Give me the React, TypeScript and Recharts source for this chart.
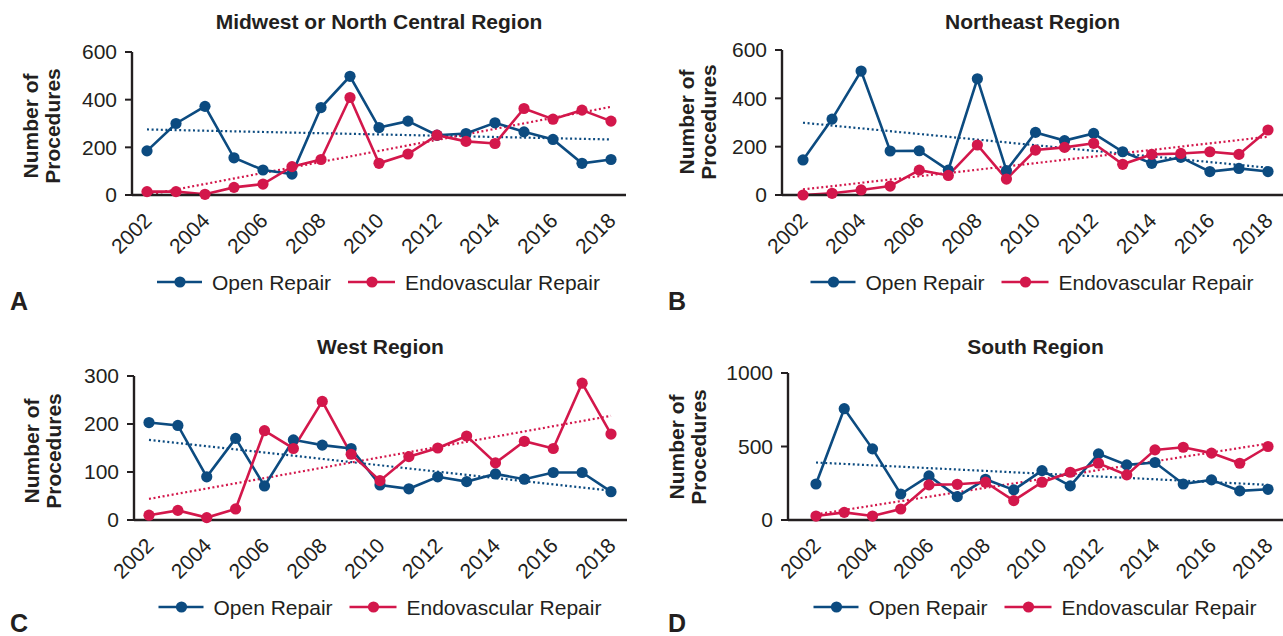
import { CartesianGrid, Line, LineChart, XAxis, YAxis } from 'recharts';

const years = ['2002', '2003', '2004', '2005', '2006', '2007', '2008', '2009', '2010', '2011', '2012', '2013', '2014', '2015', '2016', '2017', '2018'];

const midwestOpen = [185, 300, 372, 156, 105, 88, 367, 498, 283, 310, 251, 258, 303, 265, 233, 133, 149];
const midwestEndo = [14, 14, 3, 32, 46, 119, 149, 409, 133, 172, 251, 225, 216, 363, 318, 356, 310];
const midwestOpenTrend = [275, 233];
const midwestEndoTrend = [0, 370];

const northeastOpen = [145, 314, 513, 182, 183, 103, 481, 101, 259, 225, 255, 179, 131, 156, 97, 110, 97];
const northeastEndo = [0, 7, 21, 37, 103, 81, 207, 66, 186, 197, 214, 127, 168, 172, 179, 168, 269];
const northeastOpenTrend = [299, 113];
const northeastEndoTrend = [23, 241];

const westOpen = [203, 197, 90, 170, 71, 167, 156, 149, 73, 65, 90, 80, 96, 85, 99, 99, 59];
const westEndo = [10, 20, 5, 23, 186, 149, 247, 137, 82, 132, 150, 175, 119, 164, 149, 285, 179];
const westOpenTrend = [167, 61];
const westEndoTrend = [44, 217];

const southOpen = [245, 757, 484, 177, 300, 159, 277, 205, 336, 232, 450, 375, 391, 245, 273, 198, 209];
const southEndo = [27, 52, 27, 75, 239, 243, 257, 132, 257, 325, 386, 307, 477, 495, 455, 386, 500];
const southOpenTrend = [391, 239];
const southEndoTrend = [38, 520];

const BLUE = '#0c4b80';
const RED = '#d3174b';
const INK = '#231f20';
const FONT = '"Liberation Sans", Arial, Helvetica, sans-serif';

type Panel = {
  title: string;
  letter: string;
  open: number[];
  endo: number[];
  openTrend: number[];
  endoTrend: number[];
  domain: [number, number];
  ticks: number[];
  left: number;
  top: number;
  width: number;
  axisWidth: number;
  mTop: number;
  mRight: number;
  mBottom: number;
  padLeft: number;
  padRight: number;
  titleY: number;
  legendY: number;
  labelX: number;
  labelY: number;
  letterX: number;
  letterY: number;
};

const H = 318;

const panels: Panel[] = [
  {
    title: 'Midwest or North Central Region', letter: 'A',
    open: midwestOpen, endo: midwestEndo, openTrend: midwestOpenTrend, endoTrend: midwestEndoTrend,
    domain: [0, 600], ticks: [0, 200, 400, 600],
    left: 0, top: 0, width: 640, axisWidth: 132, mTop: 52, mRight: 14, mBottom: 63, padLeft: 15, padRight: 15,
    titleY: 29, legendY: 282, labelX: 42, labelY: 126, letterX: 10, letterY: 310,
  },
  {
    title: 'Northeast Region', letter: 'B',
    open: northeastOpen, endo: northeastEndo, openTrend: northeastOpenTrend, endoTrend: northeastEndoTrend,
    domain: [0, 600], ticks: [0, 200, 400, 600],
    left: 640, top: 0, width: 643, axisWidth: 142, mTop: 50, mRight: 0, mBottom: 63, padLeft: 21, padRight: 15,
    titleY: 29, legendY: 282, labelX: 698, labelY: 122, letterX: 668, letterY: 310,
  },
  {
    title: 'West Region', letter: 'C',
    open: westOpen, endo: westEndo, openTrend: westOpenTrend, endoTrend: westEndoTrend,
    domain: [0, 300], ticks: [0, 100, 200, 300],
    left: 0, top: 318, width: 640, axisWidth: 134, mTop: 58, mRight: 13, mBottom: 56, padLeft: 15, padRight: 16,
    titleY: 354, legendY: 607, labelX: 43, labelY: 451, letterX: 10, letterY: 632,
  },
  {
    title: 'South Region', letter: 'D',
    open: southOpen, endo: southEndo, openTrend: southOpenTrend, endoTrend: southEndoTrend,
    domain: [0, 1000], ticks: [0, 500, 1000],
    left: 640, top: 318, width: 643, axisWidth: 148, mTop: 55, mRight: 0, mBottom: 56, padLeft: 28, padRight: 15,
    titleY: 354, legendY: 607, labelX: 688, labelY: 447, letterX: 668, letterY: 632,
  },
];

function YearTick({ x, y, payload }: any) {
  return (
    <text
      transform={`translate(${x + 6},${y + 27}) rotate(-45)`}
      textAnchor="end"
      fontSize={21}
      fontFamily={FONT}
      fill={INK}
    >
      {payload.value}
    </text>
  );
}

function RegionChart({ p }: { p: Panel }) {
  const last = years.length - 1;
  const data = years.map((year, i) => ({
    year,
    open: p.open[i],
    endo: p.endo[i],
    openTrend: i === 0 ? p.openTrend[0] : i === last ? p.openTrend[1] : null,
    endoTrend: i === 0 ? p.endoTrend[0] : i === last ? p.endoTrend[1] : null,
  }));
  return (
    <div style={{ position: 'absolute', left: p.left, top: p.top }}>
      <LineChart
        width={p.width}
        height={H}
        data={data}
        margin={{ top: p.mTop, right: p.mRight, bottom: p.mBottom, left: 0 }}
      >
        <CartesianGrid stroke="none" />
        <XAxis
          dataKey="year"
          interval={1}
          height={60}
          tickSize={0}
          tickMargin={0}
          tickLine={false}
          padding={{ left: p.padLeft, right: p.padRight }}
          axisLine={{ stroke: INK, strokeWidth: 2.6 }}
          tick={<YearTick />}
        />
        <YAxis
          width={p.axisWidth}
          domain={p.domain}
          ticks={p.ticks}
          interval={0}
          tickSize={7}
          tickMargin={8}
          axisLine={{ stroke: INK, strokeWidth: 2.4 }}
          tickLine={{ stroke: INK, strokeWidth: 2 }}
          tick={{ fontSize: 21, fill: INK, fontFamily: FONT }}
        />
        <Line dataKey="openTrend" stroke={BLUE} strokeWidth={2.2} strokeDasharray="2 2.6" dot={false} connectNulls isAnimationActive={false} />
        <Line dataKey="endoTrend" stroke={RED} strokeWidth={2.2} strokeDasharray="2 2.6" dot={false} connectNulls isAnimationActive={false} />
        <Line dataKey="open" stroke={BLUE} strokeWidth={2.6} dot={{ r: 5.6, fill: BLUE, stroke: BLUE, strokeWidth: 0 }} isAnimationActive={false} />
        <Line dataKey="endo" stroke={RED} strokeWidth={2.6} dot={{ r: 5.6, fill: RED, stroke: RED, strokeWidth: 0 }} isAnimationActive={false} />
      </LineChart>
    </div>
  );
}

function Overlay() {
  return (
    <svg width={1283} height={636} style={{ position: 'absolute', left: 0, top: 0, pointerEvents: 'none' }} fontFamily={FONT}>
      {panels.map((p) => {
        const plotLeft = p.left + p.axisWidth;
        const plotRight = p.left + p.width - p.mRight;
        const cx = (plotLeft + plotRight) / 2;
        const ly = p.legendY;
        return (
          <g key={p.letter}>
            <text x={cx} y={p.titleY} textAnchor="middle" fontSize={21} fontWeight="bold" fill={INK}>
              {p.title}
            </text>
            <text transform={`translate(${p.labelX},${p.labelY}) rotate(-90)`} textAnchor="middle" fontSize={21} fontWeight="bold" fill={INK}>
              <tspan x={0} y={-4}>Number of</tspan>
              <tspan x={0} y={18}>Procedures</tspan>
            </text>
            <text x={p.letterX} y={p.letterY} fontSize={25} fontWeight="bold" fill={INK}>
              {p.letter}
            </text>
            <line x1={cx - 222} x2={cx - 177} y1={ly} y2={ly} stroke={BLUE} strokeWidth={2.6} />
            <circle cx={cx - 199} cy={ly} r={5.6} fill={BLUE} />
            <text x={cx - 167} y={ly + 8} fontSize={21} fill={INK}>Open Repair</text>
            <line x1={cx - 31} x2={cx + 16} y1={ly} y2={ly} stroke={RED} strokeWidth={2.6} />
            <circle cx={cx - 7} cy={ly} r={5.6} fill={RED} />
            <text x={cx + 26} y={ly + 8} fontSize={21} fill={INK}>Endovascular Repair</text>
          </g>
        );
      })}
    </svg>
  );
}

export default function App() {
  return (
    <div style={{ position: 'absolute', left: 0, top: 0, width: 1283, height: 636, background: '#fff' }}>
      {panels.map((p) => (
        <RegionChart key={p.letter} p={p} />
      ))}
      <Overlay />
    </div>
  );
}
